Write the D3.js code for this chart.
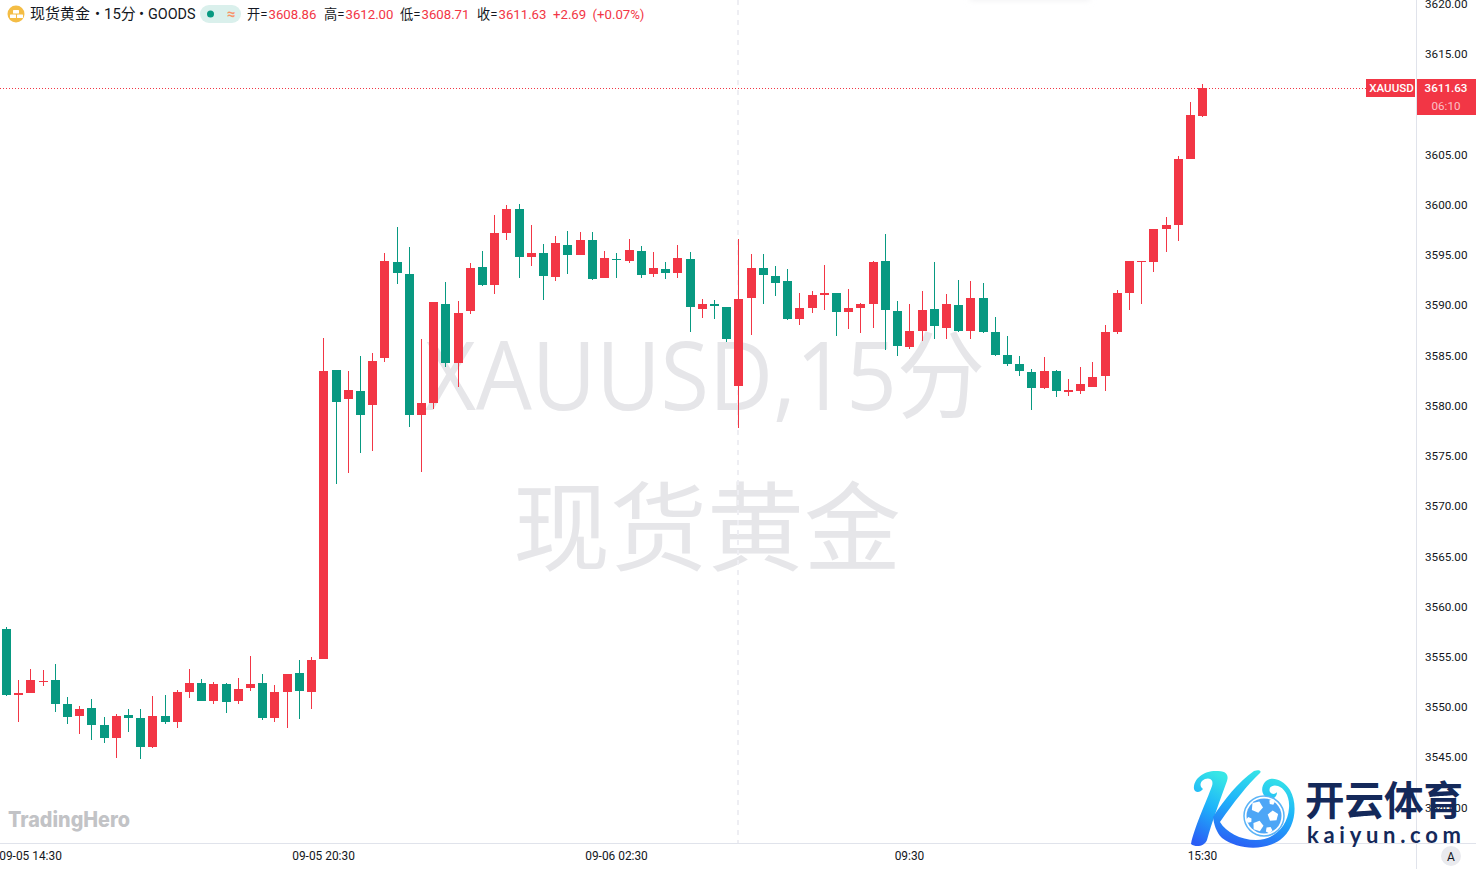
<!DOCTYPE html>
<html><head><meta charset="utf-8">
<script src="https://cdn.jsdelivr.net/npm/d3@7"></script>
<style>html,body{margin:0;padding:0;background:#fff;overflow:hidden}svg{display:block}</style>
</head><body><svg id="c" width="1476" height="869"></svg>
<script>
const opens=[3557.73,3551.16,3551.36,3552.45,3552.65,3550.26,3549.07,3549.86,3548.17,3546.87,3549.17,3548.87,3545.98,3549.07,3548.47,3551.46,3552.35,3550.56,3552.25,3550.56,3551.86,3552.35,3548.87,3551.46,3553.35,3551.46,3554.74,3583.53,3580.64,3581.44,3580.04,3584.72,3594.28,3593.09,3579.05,3580.24,3590.10,3584.23,3589.40,3593.79,3591.99,3597.17,3599.56,3594.78,3595.18,3592.79,3595.98,3594.98,3596.48,3592.69,3594.58,3594.38,3595.38,3593.09,3593.59,3593.19,3594.58,3589.60,3590.10,3589.80,3581.93,3590.70,3593.69,3592.89,3592.39,3588.61,3589.70,3591.00,3591.20,3589.30,3589.70,3590.10,3594.38,3589.40,3585.82,3587.41,3589.60,3587.71,3590.00,3587.41,3590.70,3587.31,3585.02,3584.13,3583.33,3581.73,3583.43,3581.34,3581.44,3581.83,3582.93,3587.31,3591.20,3594.28,3594.28,3597.57,3597.97,3604.54,3608.86];
const highs=[3557.93,3552.65,3553.75,3553.65,3554.25,3550.96,3550.06,3550.76,3548.97,3549.27,3549.76,3549.76,3551.06,3551.16,3551.66,3553.75,3552.75,3552.45,3552.35,3552.85,3555.04,3553.25,3552.15,3553.25,3554.64,3554.94,3586.72,3583.53,3583.43,3584.92,3585.22,3595.18,3597.77,3595.78,3586.62,3590.30,3592.29,3590.40,3594.18,3595.38,3598.97,3599.96,3600.06,3597.97,3596.08,3596.87,3597.37,3597.27,3597.27,3595.38,3595.18,3596.58,3595.88,3595.28,3594.28,3595.98,3595.28,3590.60,3590.50,3589.80,3596.58,3595.08,3595.08,3593.89,3593.59,3591.20,3591.40,3593.99,3591.20,3591.60,3590.20,3594.38,3597.07,3590.40,3590.10,3591.40,3594.28,3591.10,3592.49,3592.39,3592.19,3588.81,3586.91,3584.92,3583.63,3584.82,3583.53,3582.63,3583.83,3584.32,3588.01,3591.50,3594.38,3594.38,3597.57,3598.77,3604.84,3610.22,3612.00];
const lows=[3551.06,3548.47,3551.36,3552.05,3549.46,3548.27,3547.27,3546.67,3546.37,3544.88,3547.47,3544.78,3545.88,3548.27,3547.87,3550.86,3550.56,3550.26,3549.36,3550.26,3551.56,3548.67,3548.47,3547.87,3548.77,3549.76,3554.74,3572.17,3573.27,3575.26,3575.46,3584.32,3592.09,3577.85,3573.37,3579.64,3583.83,3581.83,3589.11,3591.89,3591.10,3596.48,3592.69,3593.89,3590.50,3592.39,3593.09,3594.98,3592.49,3592.69,3592.69,3594.18,3592.69,3592.79,3592.59,3592.69,3587.31,3588.71,3588.61,3586.32,3577.75,3587.01,3590.10,3590.90,3588.51,3588.01,3589.20,3589.50,3586.91,3587.61,3587.21,3587.71,3585.52,3584.92,3585.62,3586.42,3586.62,3586.62,3587.31,3586.62,3587.21,3584.92,3583.93,3582.93,3579.54,3581.64,3580.84,3580.94,3581.14,3581.83,3581.44,3587.11,3589.50,3590.10,3593.29,3595.28,3596.38,3604.54,3608.71];
const closes=[3551.16,3551.36,3552.65,3552.55,3550.26,3548.97,3549.76,3548.17,3546.87,3549.07,3548.87,3545.98,3549.07,3548.47,3551.46,3552.35,3550.56,3552.25,3550.46,3551.76,3552.25,3548.87,3551.46,3553.25,3551.56,3554.64,3583.43,3580.34,3581.54,3579.05,3584.42,3594.38,3593.19,3579.05,3580.24,3590.30,3584.23,3589.20,3593.69,3591.99,3597.17,3599.56,3594.78,3595.18,3592.89,3596.18,3594.98,3596.48,3592.59,3594.68,3594.48,3595.48,3592.99,3593.69,3593.19,3594.68,3589.80,3590.10,3589.90,3586.62,3590.60,3593.69,3592.99,3592.19,3588.61,3589.70,3591.00,3591.20,3589.30,3589.70,3590.10,3594.28,3589.50,3585.92,3587.41,3589.50,3587.91,3590.10,3587.41,3590.70,3587.31,3585.02,3584.13,3583.43,3581.73,3583.43,3581.44,3581.54,3582.13,3582.83,3587.31,3591.20,3594.38,3594.38,3597.57,3597.97,3604.54,3608.93,3611.63];
const priceTicks=[3620,3615,3605,3600,3595,3590,3585,3580,3575,3570,3565,3560,3555,3550,3545,3540];
const timeTicks=[{i:2,t:"09-05 14:30"},{i:26,t:"09-05 20:30"},{i:50,t:"09-06 02:30"},{i:74,t:"09:30"},{i:98,t:"15:30"}];
const lastPrice=3611.63;
const UP="#f23645",DOWN="#089981",TXT="#131722",GRID="#e0e3eb";
const FONT="Roboto,'Noto Sans CJK SC',sans-serif";
const svg=d3.select("#c");
const plotW=1416,plotB=843;
const x=d3.scaleLinear().domain([0,98]).range([6.4,1202.8]);
const y=d3.scaleLinear().domain([3615,3545]).range([54,757]);
const bars=d3.range(opens.length).map(i=>({i,o:opens[i],h:highs[i],l:lows[i],c:closes[i]}));
const col=d=>d.c>=d.o?UP:DOWN;

const defs=svg.append("defs");
defs.append("filter").attr("id","soft").attr("x","-20%").attr("y","-200%").attr("width","140%").attr("height","500%")
  .append("feGaussianBlur").attr("stdDeviation",3);

// faint toolbar shadow at the top
svg.append("rect").attr("x",970).attr("y",-8).attr("width",120).attr("height",8).attr("fill","#efeff1").attr("filter","url(#soft)");

// watermark
const wm=svg.append("g").attr("fill","#e6e6e9").attr("font-family","'Open Sans','Noto Sans CJK SC',sans-serif");
wm.append("text").attr("x",425).attr("y",410).attr("font-size",96).attr("textLength",560).attr("lengthAdjust","spacingAndGlyphs").text("XAUUSD,15分");
wm.append("text").attr("x",707).attr("y",563).attr("font-size",97).attr("text-anchor","middle").attr("font-family","'Noto Sans CJK SC',sans-serif").text("现货黄金");

// session line
svg.append("line").attr("x1",738).attr("x2",738).attr("y1",0).attr("y2",plotB).attr("stroke","#eeeef3").attr("stroke-width",2).attr("stroke-dasharray","5 5");

// last price line
svg.append("line").attr("x1",0).attr("x2",plotW).attr("y1",Math.round(y(lastPrice))+.5).attr("y2",Math.round(y(lastPrice))+.5)
  .attr("stroke",UP).attr("stroke-width",1).attr("stroke-dasharray","1 2");

// candles
const g=svg.append("g");
g.selectAll("line.w").data(bars).join("line").attr("class","w").attr("shape-rendering","crispEdges")
  .attr("x1",d=>x(d.i)).attr("x2",d=>x(d.i)).attr("y1",d=>y(d.h)).attr("y2",d=>y(d.l)).attr("stroke",col).attr("stroke-width",1);
g.selectAll("rect").data(bars).join("rect").attr("shape-rendering","crispEdges")
  .attr("x",d=>x(d.i)-4.5).attr("width",9)
  .attr("y",d=>y(Math.max(d.o,d.c))).attr("height",d=>Math.max(1,y(Math.min(d.o,d.c))-y(Math.max(d.o,d.c)))).attr("fill",col);

// axes frame
svg.append("line").attr("x1",plotW+.5).attr("x2",plotW+.5).attr("y1",0).attr("y2",869).attr("stroke",GRID);
svg.append("line").attr("x1",0).attr("x2",1476).attr("y1",plotB+.5).attr("y2",plotB+.5).attr("stroke",GRID);
const yAxis=d3.axisRight(y).tickValues(priceTicks).tickFormat(d3.format(".2f")).tickSize(0).tickPadding(8.5);
const ay=svg.append("g").attr("transform",`translate(${plotW+.5},0)`).call(yAxis);
ay.select(".domain").remove();
ay.selectAll("line").remove();
ay.selectAll("text").attr("font-family",FONT).attr("font-size",11.7).attr("fill",TXT).attr("dy","0.33em");
const xAxis=d3.axisBottom(x).tickValues(timeTicks.map(d=>d.i)).tickFormat(i=>timeTicks.find(d=>d.i===i).t).tickSize(0).tickPadding(0);
const ax=svg.append("g").attr("transform",`translate(-0.8,${plotB})`).call(xAxis);
ax.select(".domain").remove();
ax.selectAll("line").remove();
ax.selectAll("text").attr("font-family",FONT).attr("font-size",11.9).attr("fill",TXT).attr("y",9);

// price tags
svg.append("rect").attr("x",1366).attr("y",79).attr("width",49).attr("height",18).attr("fill",UP);
svg.append("rect").attr("x",1417).attr("y",79).attr("width",59).attr("height",36).attr("fill",UP);
svg.append("text").attr("x",1391.5).attr("y",92).attr("text-anchor","middle").attr("font-size",11.6).attr("font-family",FONT).attr("font-weight",500).attr("fill","#fff").text("XAUUSD");
svg.append("text").attr("x",1446).attr("y",92).attr("text-anchor","middle").attr("font-size",11.6).attr("font-family",FONT).attr("font-weight",500).attr("fill","#fff").text("3611.63");
svg.append("text").attr("x",1446).attr("y",110).attr("text-anchor","middle").attr("font-size",11.6).attr("font-family",FONT).attr("fill","#fff").attr("fill-opacity",.7).text("06:10");

// header
const h=svg.append("g").attr("font-family",FONT).attr("font-size",13);
h.append("circle").attr("cx",16).attr("cy",14).attr("r",8.5).attr("fill","#f4bd45");
[[13,10,6,3.5],[10,14.5,6,3.5],[17,14.5,6,3.5]].forEach(r=>h.append("rect").attr("x",r[0]).attr("y",r[1]).attr("width",r[2]).attr("height",r[3]).attr("fill","#fff").attr("rx",.5));
[[30,"现货黄金",15],[95,"•",15],[104,"15分",15],[139,"•",15],[148,"GOODS",14.4]].forEach(d=>h.append("text").attr("x",d[0]).attr("y",19).attr("fill",TXT).attr("font-size",d[2]).text(d[1]));
h.append("rect").attr("x",200).attr("y",5).attr("width",41).attr("height",18).attr("rx",9).attr("fill","#daf0ec");
h.append("circle").attr("cx",210.5).attr("cy",14).attr("r",3.5).attr("fill","#089981");
h.append("text").attr("x",231).attr("y",18.5).attr("text-anchor","middle").attr("fill","#f7946a").attr("font-size",15).attr("font-weight",700).text("≈");
const hdr=[[247,"开=",TXT],[268.5,"3608.86",UP],[324,"高=",TXT],[345.5,"3612.00",UP],[400,"低=",TXT],[421.5,"3608.71",UP],[477,"收=",TXT],[498.5,"3611.63",UP],[553,"+2.69",UP],[592.5,"(+0.07%)",UP]];
hdr.forEach(d=>h.append("text").attr("x",d[0]).attr("y",19).attr("fill",d[2]).attr("font-size",13.2).text(d[1]));

// TradingHero watermark
svg.append("text").attr("x",8).attr("y",827).attr("font-family","Inter,Roboto,sans-serif").attr("font-weight",800).attr("font-size",21).attr("textLength",122).attr("lengthAdjust","spacingAndGlyphs").attr("fill","#c2c3c6").text("TradingHero");

// auto button
svg.append("circle").attr("cx",1451).attr("cy",856).attr("r",10).attr("fill","#e9eaee");
svg.append("text").attr("x",1451).attr("y",860.5).attr("text-anchor","middle").attr("font-size",12).attr("font-family",FONT).attr("fill",TXT).text("A");

// brand logo
const gr=defs.append("linearGradient").attr("id","kg").attr("x1","0.6").attr("y1","0").attr("x2","0.3").attr("y2","1");
gr.append("stop").attr("offset","0").attr("stop-color","#37e6e6");
gr.append("stop").attr("offset",".45").attr("stop-color","#1eb4fa");
gr.append("stop").attr("offset","1").attr("stop-color","#2a5ef5");
const lg=svg.append("g").attr("fill","url(#kg)");
lg.append("path").attr("d","M1194 789C1193 778 1205 770 1218 771C1226 771 1229 775 1227 781C1220 800 1212 822 1207 840C1205 846 1196 848 1191 844C1194 828 1207 800 1212 786C1214 780 1210 777 1205 779C1200 781 1199 786 1203 789C1200 793 1195 793 1194 789Z");
lg.append("path").attr("d","M1213 817C1224 800 1238 782 1254 771C1259 769 1262 771 1260 773C1248 784 1234 802 1220 822C1226 832 1240 840 1256 840C1274 840 1288 826 1289 808C1290 796 1284 788 1278 786C1272 784 1268 788 1270 792C1272 795 1276 794 1277 792C1277 798 1272 800 1268 798C1262 796 1260 788 1265 782C1270 776 1282 778 1290 790C1298 804 1296 828 1280 840C1264 851 1238 850 1222 838C1216 832 1214 824 1213 817Z");
const ball=svg.append("g");
ball.append("circle").attr("cx",1264).attr("cy",816).attr("r",20).attr("fill","#fff").attr("stroke","#5bb4f7").attr("stroke-width",1.5);
ball.append("circle").attr("cx",1264).attr("cy",816).attr("r",17.5).attr("fill","#4da6f6");
const pent=(cx,cy,r,rot)=>d3.range(5).map(k=>{const a=rot+k*2*Math.PI/5;return [cx+r*Math.sin(a),cy-r*Math.cos(a)];});
[[1257,807,6,0.4],[1273,816,5.5,1.2],[1258,826,5.5,2.8],[1269,830,3.5,3],[1249,820,3,1],[1272,802,3,0.2]].forEach(c=>ball.append("polygon").attr("points",pent(c[0],c[1],c[2],c[3]).join(" ")).attr("fill","#fff"));
svg.append("text").attr("x",1305).attr("y",815).attr("font-family","'Noto Sans CJK SC',sans-serif").attr("font-weight",700).attr("font-size",39.5).attr("fill","#14295a").text("开云体育");
svg.append("text").attr("x",1307).attr("y",843).attr("font-family","Lato,'Noto Sans',sans-serif").attr("font-weight",700).attr("font-size",22).attr("textLength",154).attr("fill","#14295a").text("kaiyun.com");
</script></body></html>
